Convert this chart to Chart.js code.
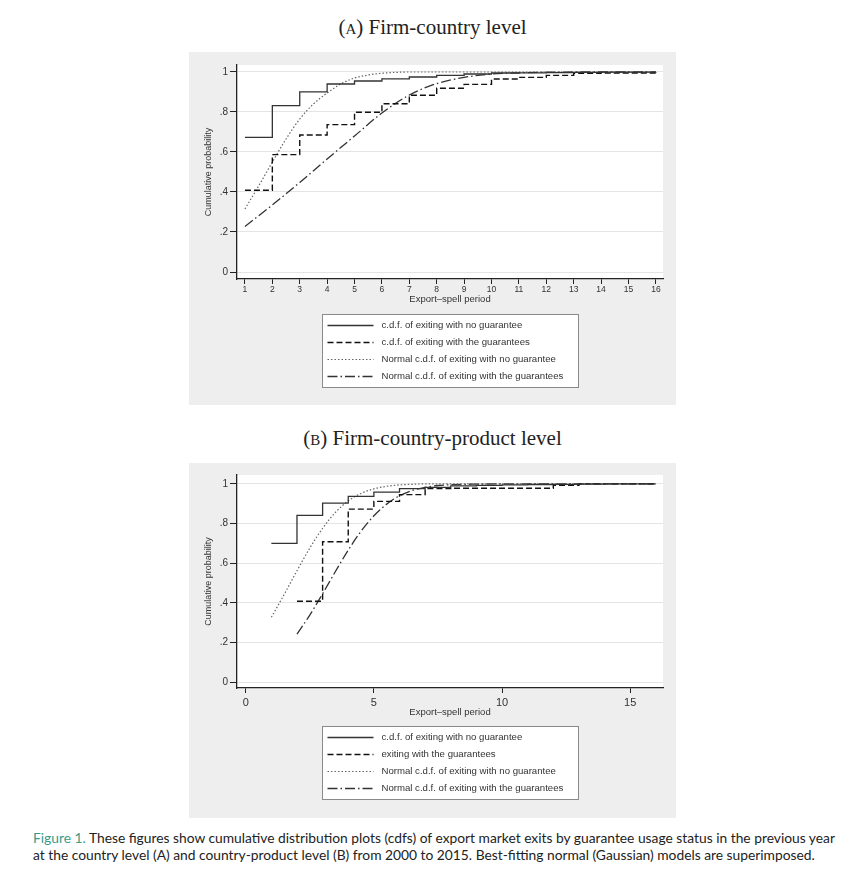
<!DOCTYPE html>
<html>
<head>
<meta charset="utf-8">
<script src="https://cdn.jsdelivr.net/npm/chart.js@4.4.1/dist/chart.umd.min.js"></script>
<style>
body { margin: 0; background: #fff; width: 865px; height: 876px; position: relative; overflow: hidden; }
.ttl { position: absolute; left: 0; width: 865px; text-align: center; font-family: "Liberation Serif", serif; font-size: 21px; color: #222; }
.ttl span { font-size: 15px; }
.panel { position: absolute; left: 189px; width: 487px; background: #eeeeee; }
canvas { display: block; }
.cap { position: absolute; left: 33px; top: 829px; width: 830px; font-family: Lato, sans-serif; font-size: 13.8px; line-height: 17px; color: #222; white-space: nowrap; }
.cap em { font-style: normal; color: #3b9a8a; }
</style>
</head>
<body>
<div class="ttl" style="top:15px">(<span>A</span>) Firm-country level</div>
<div class="panel" style="top:52px;height:353px"><canvas id="chartA" width="487" height="353"></canvas></div>
<div class="ttl" style="top:426px">(<span>B</span>) Firm-country-product level</div>
<div class="panel" style="top:463px;height:355px"><canvas id="chartB" width="487" height="355"></canvas></div>
<div class="cap"><em>Figure 1.</em> These figures show cumulative distribution plots (cdfs) of export market exits by guarantee usage status in the previous year<br>at the country level (A) and country-product level (B) from 2000 to 2015. Best-fitting normal (Gaussian) models are superimposed.</div>

<script>
// y axis, shared by both panels
var yTicks = [0, 0.2, 0.4, 0.6, 0.8, 1];
var yTickLabels = ['0', '.2', '.4', '.6', '.8', '1'];

// panel A : firm-country level
var xTicksA = [1, 2, 3, 4, 5, 6, 7, 8, 9, 10, 11, 12, 13, 14, 15, 16];
var periodsA = [1, 2, 3, 4, 5, 6, 7, 8, 9, 10, 11, 12, 13, 14, 15, 16];
var noGuarA = [0.673, 0.832, 0.901, 0.94, 0.955, 0.966, 0.975, 0.983, 0.99, 0.995, 0.996, 0.997, 0.998, 0.999, 0.999, 1.0];
var guarA = [0.409, 0.587, 0.685, 0.737, 0.799, 0.841, 0.884, 0.919, 0.938, 0.965, 0.973, 0.983, 0.993, 0.995, 0.995, 1.0];
var fitNoXA = [1, 1.5, 2, 2.5, 3, 3.5, 4, 4.5, 5, 5.5, 6, 6.5, 7, 8, 9, 10, 11, 12, 13, 14, 15, 16];
var fitNoA = [0.315, 0.43, 0.55, 0.665, 0.765, 0.84, 0.895, 0.94, 0.97, 0.985, 0.994, 0.998, 1, 1, 1, 1, 1, 1, 1, 1, 1, 1];
var fitGuarXA = [1, 2, 3, 4, 5, 6, 7, 8, 9, 10, 11, 12, 13, 14, 15, 16];
var fitGuarA = [0.228, 0.335, 0.448, 0.565, 0.68, 0.795, 0.885, 0.942, 0.973, 0.99, 0.996, 0.999, 1, 1, 1, 1];
var legendA = ['c.d.f. of exiting with no guarantee', 'c.d.f. of exiting with the guarantees',
  'Normal c.d.f. of exiting with no guarantee', 'Normal c.d.f. of exiting with the guarantees'];

// panel B : firm-country-product level
var xTicksB = [0, 5, 10, 15];
var periodsNoB = [1, 2, 3, 4, 5, 6, 7, 8, 9, 10, 11, 12, 13, 14, 15, 16];
var noGuarB = [0.70, 0.841, 0.903, 0.937, 0.959, 0.976, 0.983, 0.99, 0.993, 0.995, 0.997, 0.998, 0.999, 1, 1, 1];
var periodsGuarB = [2, 3, 4, 5, 6, 7, 8, 9, 10, 11, 12, 13, 14, 15, 16];
var guarB = [0.408, 0.708, 0.873, 0.912, 0.946, 0.976, 0.978, 0.978, 0.978, 0.978, 0.993, 1, 1, 1, 1];
var fitNoXB = [1, 1.5, 2, 2.5, 3, 3.5, 4, 4.5, 5, 5.5, 6, 6.5, 7, 8, 9, 10, 11, 12, 13, 14, 15, 16];
var fitNoB = [0.327, 0.442, 0.562, 0.676, 0.776, 0.856, 0.914, 0.952, 0.975, 0.988, 0.995, 0.998, 1, 1, 1, 1, 1, 1, 1, 1, 1, 1];
var fitGuarXB = [2, 2.5, 3, 3.5, 4, 4.5, 5, 5.5, 6, 6.5, 7, 7.5, 8, 9, 10, 11, 12, 13, 14, 15, 16];
var fitGuarB = [0.242, 0.338, 0.446, 0.558, 0.666, 0.761, 0.839, 0.898, 0.94, 0.967, 0.983, 0.992, 0.996, 0.999, 1, 1, 1, 1, 1, 1, 1];
var legendB = ['c.d.f. of exiting with no guarantee', 'exiting with the guarantees',
  'Normal c.d.f. of exiting with no guarantee', 'Normal c.d.f. of exiting with the guarantees'];

var FONT = '"Liberation Sans", Arial, sans-serif';
var INK = '#333';

function pts(xs, ys) {
  return xs.map(function (x, i) { return { x: x, y: ys[i] }; });
}

// white plot region, like Stata's plotregion
var plotBg = {
  id: 'plotBg',
  beforeDraw: function (chart) {
    var a = chart.chartArea, ctx = chart.ctx;
    ctx.save();
    ctx.fillStyle = '#fff';
    ctx.fillRect(a.left, a.top, a.right - a.left, a.bottom - a.top);
    ctx.restore();
  }
};

// boxed legend under the axis title
var boxLegend = {
  id: 'boxLegend',
  afterDraw: function (chart, args, opts) {
    var ctx = chart.ctx, a = chart.chartArea;
    var w = 256, h = 73;
    var left = Math.round((a.left + a.right) / 2 - w / 2) + 0.5;
    var top = Math.round(a.bottom + opts.gap) + 0.5;
    ctx.save();
    ctx.fillStyle = '#fff';
    ctx.fillRect(left, top, w, h);
    ctx.strokeStyle = '#8a8a8a';
    ctx.lineWidth = 1;
    ctx.strokeRect(left, top, w, h);
    ctx.font = '9.6px ' + FONT;
    ctx.textBaseline = 'middle';
    chart.data.datasets.forEach(function (ds, i) {
      var y = top + 11 + i * 17;
      ctx.beginPath();
      ctx.setLineDash(ds.borderDash || []);
      ctx.strokeStyle = ds.borderColor;
      ctx.lineWidth = ds.borderWidth;
      ctx.moveTo(left + 5, y);
      ctx.lineTo(left + 51, y);
      ctx.stroke();
      ctx.setLineDash([]);
      ctx.fillStyle = INK;
      ctx.fillText(ds.label, left + 59, y);
    });
    ctx.restore();
  }
};

function makeChart(id, cfg) {
  var datasets = [
    { label: cfg.legend[0], data: cfg.noGuar, borderColor: '#333', borderWidth: 1.3, stepped: 'before' },
    { label: cfg.legend[1], data: cfg.guar, borderColor: '#111', borderWidth: 1.4, borderDash: [6, 3], stepped: 'before' },
    { label: cfg.legend[2], data: cfg.fitNo, borderColor: '#666', borderWidth: 1.2, borderDash: [1.5, 2], cubicInterpolationMode: 'monotone' },
    { label: cfg.legend[3], data: cfg.fitGuar, borderColor: '#333', borderWidth: 1.3, borderDash: [10, 3, 1.5, 3], cubicInterpolationMode: 'monotone' }
  ];
  datasets.forEach(function (d) { d.pointRadius = 0; d.fill = false; });

  return new Chart(document.getElementById(id), {
    type: 'line',
    data: { datasets: datasets },
    options: {
      responsive: false,
      animation: false,
      layout: { padding: { top: cfg.padTop, right: 13, bottom: cfg.padBottom, left: 0 } },
      plugins: {
        legend: { display: false },
        tooltip: { enabled: false },
        boxLegend: { gap: cfg.legendGap }
      },
      scales: {
        x: {
          type: 'linear',
          min: cfg.xMin,
          max: cfg.xMax,
          afterBuildTicks: function (s) { s.ticks = cfg.xTicks.map(function (v) { return { value: v }; }); },
          afterFit: function (s) { s.height = cfg.xHeight; },
          ticks: { color: INK, font: { family: FONT, size: cfg.xFont }, padding: cfg.xPad, maxRotation: 0, autoSkip: false,
            callback: function (v) { return String(v); } },
          grid: { drawOnChartArea: false, tickLength: 5, tickColor: '#222', tickWidth: 1 },
          border: { color: '#222', width: 1.3 },
          title: { display: true, text: 'Export\u2013spell period', color: INK,
            font: { family: FONT, size: 9.5, lineHeight: 1.2 }, padding: { top: 0, bottom: cfg.xTitlePad } }
        },
        y: {
          min: cfg.yMin,
          max: cfg.yMax,
          afterBuildTicks: function (s) { s.ticks = yTicks.map(function (v) { return { value: v }; }); },
          afterFit: function (s) { s.width = 48; },
          ticks: { color: INK, font: { family: FONT, size: 10 }, padding: 2,
            callback: function (v, i) { return yTickLabels[i]; } },
          grid: { color: '#e4e4e4', lineWidth: 1, tickLength: 7, tickColor: '#222', tickWidth: 1 },
          border: { color: '#222', width: 1.3 },
          title: { display: true, text: 'Cumulative probability', color: INK,
            font: { family: FONT, size: 9, lineHeight: 1.2 }, padding: { top: 14, bottom: 0 } }
        }
      }
    },
    plugins: [plotBg, boxLegend]
  });
}

makeChart('chartA', {
  legend: legendA,
  noGuar: pts(periodsA, noGuarA),
  guar: pts(periodsA, guarA),
  fitNo: pts(fitNoXA, fitNoA),
  fitGuar: pts(fitGuarXA, fitGuarA),
  xTicks: xTicksA, xMin: 0.71, xMax: 16.26, xFont: 8.5, xPad: 1, xHeight: 28, xTitlePad: 2,
  yMin: -0.035, yMax: 1.035, padTop: 13, padBottom: 98, legendGap: 35
});

makeChart('chartB', {
  legend: legendB,
  noGuar: pts(periodsNoB, noGuarB),
  guar: pts(periodsGuarB, guarB),
  fitNo: pts(fitNoXB, fitNoB),
  fitGuar: pts(fitGuarXB, fitGuarB),
  xTicks: xTicksB, xMin: -0.34, xMax: 16.28, xFont: 11, xPad: 3, xHeight: 30, xTitlePad: 0,
  yMin: -0.03, yMax: 1.045, padTop: 12, padBottom: 100, legendGap: 38
});
</script>
</body>
</html>
